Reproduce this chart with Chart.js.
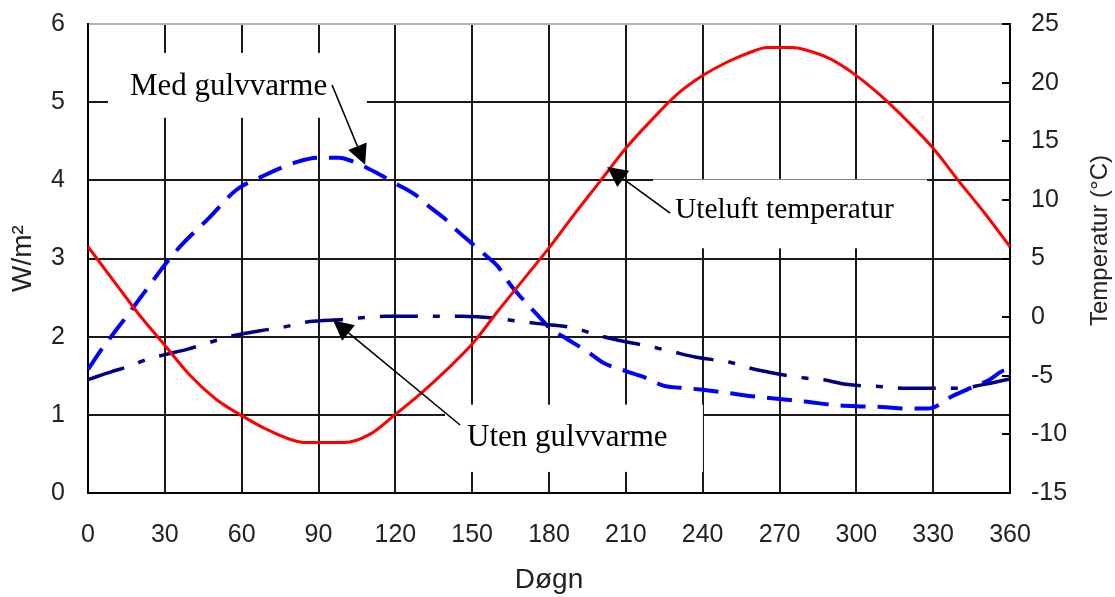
<!DOCTYPE html>
<html><head><meta charset="utf-8">
<script src="https://cdn.jsdelivr.net/npm/chart.js@4"></script>
<style>html,body{margin:0;padding:0;background:#fff;}canvas{display:block;}</style>
</head><body>
<canvas id="c" width="1115" height="597"></canvas>
<script>
// ---- tick definitions ----
const dayMin = 0, dayMax = 360, dayStep = 30;
const wMin = 0, wMax = 6, wStep = 1;
const tempMin = -15, tempMax = 25, tempStep = 5;

// ---- Uteluft temperatur (°C, right axis) ----
const tempDays   = [0, 10, 20, 30, 40, 50, 60, 70, 80, 85, 100, 110, 120, 130, 140, 150, 160, 170, 180, 190, 200, 210, 220, 230, 240, 250, 260, 265, 275, 280, 290, 300, 310, 320, 330, 340, 350, 360];
const tempValues = [6.0, 3.1, 0.2, -2.4, -5.0, -7.0, -8.4, -9.6, -10.5, -10.7, -10.7, -10.0, -8.3, -6.5, -4.5, -2.3, 0.5, 3.2, 5.9, 8.8, 11.6, 14.4, 16.8, 19.0, 20.6, 21.8, 22.7, 23.0, 23.0, 22.8, 22.0, 20.6, 18.8, 16.7, 14.4, 11.6, 8.9, 6.0];

// ---- Med gulvvarme (W/m², left axis) ----
const medDays   = [0, 6, 9, 16, 25, 30, 37, 47, 58, 68, 82, 90, 98, 105, 113, 120, 128, 133, 140, 144, 150, 156, 160, 165, 170, 176, 180, 187, 195, 201, 210, 218, 225, 234, 240, 250, 256, 268, 280, 290, 300, 310, 320, 328, 333, 337, 343, 352, 357, 360];
const medValues = [1.58, 1.87, 2.0, 2.3, 2.7, 2.92, 3.19, 3.51, 3.88, 4.05, 4.24, 4.29, 4.29, 4.22, 4.09, 3.96, 3.81, 3.67, 3.49, 3.36, 3.19, 3.02, 2.9, 2.66, 2.47, 2.26, 2.12, 1.97, 1.81, 1.67, 1.56, 1.47, 1.37, 1.34, 1.32, 1.28, 1.25, 1.21, 1.17, 1.13, 1.11, 1.10, 1.08, 1.08, 1.14, 1.23, 1.32, 1.45, 1.56, 1.59];

// ---- Uten gulvvarme (W/m², left axis) ----
const utenDays   = [0, 9, 16, 24, 30, 39, 46, 55, 70, 76, 86, 100, 106, 116, 130, 146, 161, 165, 175, 190, 197, 205, 220, 228, 237, 251, 257, 265, 280, 287, 296, 310, 318, 325, 340, 350, 360];
const utenValues = [1.45, 1.55, 1.62, 1.72, 1.77, 1.84, 1.91, 2.0, 2.09, 2.12, 2.19, 2.22, 2.24, 2.26, 2.26, 2.26, 2.23, 2.21, 2.17, 2.11, 2.04, 1.97, 1.87, 1.81, 1.74, 1.67, 1.61, 1.55, 1.47, 1.45, 1.39, 1.36, 1.34, 1.34, 1.34, 1.39, 1.46];

// ---- texts ----
const xTitle = 'Døgn';
const yTitle = 'W/m²';
const y2Title = 'Temperatur (°C)';

// ---- annotations (in data units: day, W/m²) ----
const annotations = [
  {text: 'Med gulvvarme',      tx: 16.4,  tw: 5.09, size: 31, box: [7.8, 108.9, 4.8, 5.63],  from: [95.3, 5.22],  to: [108.2, 4.20]},
  {text: 'Uteluft temperatur', tx: 229.2, tw: 3.52, size: 29.5, box: [220.6, 327.6, 3.13, 4.01], from: [227.3, 3.58], to: [202.7, 4.17]},
  {text: 'Uten gulvvarme',     tx: 148.0, tw: 0.60, size: 31, box: [139.4, 240.1, 0.27, 1.13], from: [145.3, 0.87], to: [95.7, 2.21]}
];

const toXY = (xs, ys) => xs.map((d, i) => ({x: d, y: ys[i]}));

const annotPlugin = {
  id: 'annot',
  beforeDatasetsDraw(chart) {
    const {ctx, scales: {x, y}} = chart;
    ctx.save();
    ctx.fillStyle = '#ffffff';
    annotations.forEach(a => {
      const x0 = x.getPixelForValue(a.box[0]), x1 = x.getPixelForValue(a.box[1]);
      const y0 = y.getPixelForValue(a.box[3]), y1 = y.getPixelForValue(a.box[2]);
      ctx.fillRect(x0, y0, x1 - x0, y1 - y0);
    });
    ctx.restore();
  },
  afterDatasetsDraw(chart) {
    const {ctx, chartArea, scales: {x, y, y2}} = chart;
    ctx.save();
    // texts
    ctx.fillStyle = '#000';
    ctx.textBaseline = 'alphabetic';
    ctx.textAlign = 'left';
    annotations.forEach(a => {
      ctx.font = a.size + 'px "Liberation Serif", "Times New Roman", serif';
      ctx.fillText(a.text, x.getPixelForValue(a.tx), y.getPixelForValue(a.tw));
    });
    // arrows
    ctx.strokeStyle = '#000';
    ctx.lineWidth = 1.6;
    annotations.forEach(a => {
      const fx = x.getPixelForValue(a.from[0]), fy = y.getPixelForValue(a.from[1]);
      const tx = x.getPixelForValue(a.to[0]), ty = y.getPixelForValue(a.to[1]);
      const dx = tx - fx, dy = ty - fy, len = Math.hypot(dx, dy);
      const ux = dx / len, uy = dy / len;
      const hl = 20, hw = 10;
      const bx = tx - ux * hl, by = ty - uy * hl;
      ctx.beginPath();
      ctx.moveTo(fx, fy); ctx.lineTo(bx, by);
      ctx.stroke();
      ctx.beginPath();
      ctx.moveTo(tx, ty);
      ctx.lineTo(bx - uy * hw, by + ux * hw);
      ctx.lineTo(bx + uy * hw, by - ux * hw);
      ctx.closePath();
      ctx.fill();
    });
    // right axis inside tick marks
    ctx.beginPath();
    ctx.lineWidth = 2;
    y2.ticks.forEach(t => {
      const py = Math.round(y2.getPixelForValue(t.value));
      ctx.moveTo(chartArea.right - 8, py);
      ctx.lineTo(chartArea.right, py);
    });
    ctx.stroke();
    // right axis title (reads bottom to top)
    ctx.fillStyle = '#222';
    ctx.font = '24px "Liberation Sans", Arial, sans-serif';
    ctx.textAlign = 'center';
    ctx.textBaseline = 'middle';
    ctx.translate(y2.right - 15, (y2.top + y2.bottom) / 2 - 18);
    ctx.rotate(-Math.PI / 2);
    ctx.fillText(y2Title, 0, 0);
    ctx.restore();
  }
};

const tickFont = {family: '"Liberation Sans", Arial, sans-serif', size: 25};
const titleFont = {family: '"Liberation Sans", Arial, sans-serif', size: 28};
const gridColor = '#1a1a1a';

new Chart(document.getElementById('c'), {
  type: 'line',
  data: {
    datasets: [
      {label: 'Uteluft temperatur', data: toXY(tempDays, tempValues), yAxisID: 'y2',
       borderColor: '#ff0000', borderWidth: 3, pointRadius: 0, fill: false, cubicInterpolationMode: 'monotone'},
      {label: 'Uten gulvvarme', data: toXY(utenDays, utenValues), yAxisID: 'y',
       borderColor: '#000080', borderWidth: 3.5, borderDash: [38, 15, 7, 15], pointRadius: 0, fill: false, cubicInterpolationMode: 'monotone'},
      {label: 'Med gulvvarme', data: toXY(medDays, medValues), yAxisID: 'y',
       borderColor: '#0000ff', borderWidth: 4, borderDash: [25, 12], pointRadius: 0, fill: false, cubicInterpolationMode: 'monotone'}
    ]
  },
  options: {
    responsive: false,
    animation: false,
    devicePixelRatio: 1,
    layout: {padding: {top: 24, left: 0, right: 0, bottom: 0}},
    plugins: {legend: {display: false}, tooltip: {enabled: false}},
    scales: {
      x: {
        type: 'linear', min: dayMin, max: dayMax,
        afterFit: s => { s.height = 104; },
        ticks: {stepSize: dayStep, font: tickFont, color: '#222', padding: 27, maxRotation: 0},
        grid: {color: gridColor, lineWidth: 2, drawTicks: false},
        border: {color: '#000', width: 2},
        title: {display: true, text: xTitle, font: titleFont, color: '#222', padding: 0}
      },
      y: {
        type: 'linear', position: 'left', min: wMin, max: wMax,
        afterFit: s => { s.width = 88; },
        ticks: {stepSize: wStep, font: tickFont, color: '#222', padding: 0},
        grid: {color: c => (c.tick && c.tick.value === wMax) ? '#b4b4b4' : gridColor, lineWidth: 2,
               drawTicks: true, tickLength: 23, tickColor: 'rgba(0,0,0,0)'},
        border: {color: '#000', width: 2},
        title: {display: true, text: yTitle, font: titleFont, color: '#222', padding: {top: 6, bottom: 0}}
      },
      y2: {
        type: 'linear', position: 'right', min: tempMin, max: tempMax,
        afterFit: s => { s.width = 105; },
        ticks: {stepSize: tempStep, font: tickFont, color: '#222', padding: 0},
        grid: {drawOnChartArea: false, drawTicks: true, tickLength: 21, tickColor: 'rgba(0,0,0,0)'},
        border: {color: '#000', width: 2}
      }
    }
  },
  plugins: [annotPlugin]
});
</script>
</body></html>
